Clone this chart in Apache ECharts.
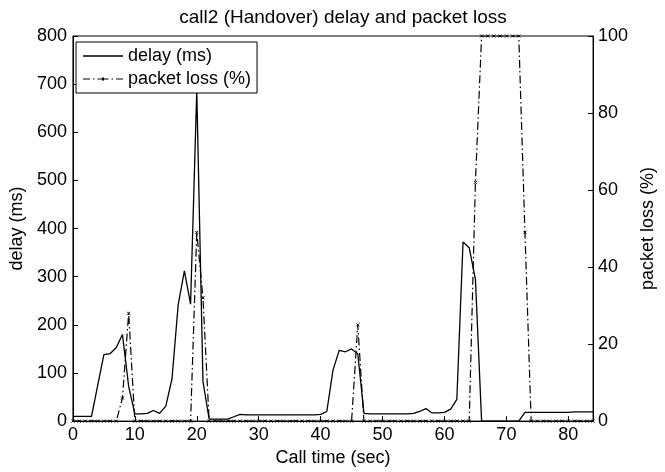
<!DOCTYPE html>
<html>
<head>
    <meta charset="utf-8">
    <title>call2 delay and packet loss</title>
    <script src="https://cdn.jsdelivr.net/npm/echarts@6/dist/echarts.min.js"></script>
    <style>
        body{ margin:0; background:#fff; }
        #main{ width:665px; height:472px; }
    </style>
</head>
<body>
<div id="main"></div>
<script>
    // call time in seconds, one sample per second
    var callTime = [];
    for (var t = 0; t <= 84; t++) callTime.push(t);

    // delay (ms)
    var delayMs = [10,10,10,10,74,138,140,153,180,72,
                   15,15,16,22,16,31,88,242,312,243,
                   686,82,4,4,4,4,9,14,13,13,
                   13,13,13,13,13,13,13,13,13,13,
                   14,20,106,147,144,150,140,16,15,15,
                   15,15,15,15,15,16,20,26,17,17,
                   18,25,45,372,360,295,0,0,0,0,
                   0,0,0,18,18,18,18,18,18,18,
                   18,19,19,19,19];

    // packet loss (%)
    var lossPct = [0,0,0,0,0,0,0,0,6,28,
                   0,0,0,0,0,0,0,0,0,0,
                   49,32,0,0,0,0,0,0,0,0,
                   0,0,0,0,0,0,0,0,0,0,
                   0,0,0,0,0,0,25,0,0,0,
                   0,0,0,0,0,0,0,0,0,0,
                   0,0,0,0,0,62,100,100,100,100,
                   100,100,100,49,0,0,0,0,0,0,
                   0,0,0,0,0];

    var delayTicks = [0,100,200,300,400,500,600,700,800];
    var lossTicks = [0,20,40,60,80,100];

    function pairs(xs, ys){
        var out = [];
        for (var i = 0; i < xs.length; i++) out.push([xs[i], ys[i]]);
        return out;
    }

    var font = 'Liberation Sans';
    var axisText = {color:'#000', fontSize:18, fontFamily:font};

    // legend icons: solid line / dash-dot line with a small mark, 40x14 box
    var solidIcon = 'path://M0,0L0,0M40,14L40,14M0,6.3L40,6.3L40,7.7L0,7.7Z';
    var dashDotIcon = 'path://M0,0L0,0M40,14L40,14' +
        'M0,6.4L7,6.4L7,7.6L0,7.6Z' +
        'M10,6.4L11.5,6.4L11.5,7.6L10,7.6Z' +
        'M14.5,6.4L25.5,6.4L25.5,7.6L14.5,7.6Z' +
        'M19,5.5L21,5.5L21,8.5L19,8.5Z' +
        'M28.5,6.4L30,6.4L30,7.6L28.5,7.6Z' +
        'M33,6.4L40,6.4L40,7.6L33,7.6Z';

    var myChart = echarts.init(document.getElementById('main'));
    myChart.setOption({
        animation:false,
        backgroundColor:'#fff',
        title:{
            text:'call2 (Handover) delay and packet loss',
            left:338, textAlign:'center', top:3,
            textStyle:{color:'#000', fontSize:19, fontWeight:'normal', fontFamily:font}
        },
        grid:{ left:68, right:58, top:36, bottom:47, show:true, borderColor:'#000', borderWidth:1 },
        legend:{
            left:76, top:42, orient:'vertical',
            backgroundColor:'#fff', borderColor:'#000', borderWidth:1,
            padding:[5,6,5,7], itemGap:5, itemWidth:40, itemHeight:14,
            textStyle:{color:'#000', fontSize:18, fontFamily:font},
            data:[{name:'delay (ms)', icon:solidIcon, itemStyle:{borderWidth:0}},
                  {name:'packet loss (%)', icon:dashDotIcon, itemStyle:{borderWidth:0}}]
        },
        xAxis:{
            type:'value', min:0, max:84, interval:10,
            name:'Call time (sec)', nameLocation:'middle', nameGap:22,
            nameTextStyle:axisText,
            axisLine:{lineStyle:{color:'#000', width:1}},
            axisTick:{inside:true, length:5, lineStyle:{color:'#000'}},
            axisLabel:{margin:5, showMaxLabel:false, color:'#000', fontSize:18, fontFamily:font},
            splitLine:{show:false}
        },
        yAxis:[{
            type:'value', min:delayTicks[0], max:delayTicks[delayTicks.length-1], interval:100,
            name:'delay (ms)', nameLocation:'middle', nameGap:44,
            nameTextStyle:axisText,
            axisLine:{show:true, lineStyle:{color:'#000', width:1}},
            axisTick:{show:true, inside:true, length:5, lineStyle:{color:'#000'}},
            axisLabel:{margin:6, color:'#000', fontSize:18, fontFamily:font},
            splitLine:{show:false}
        },{
            type:'value', min:lossTicks[0], max:lossTicks[lossTicks.length-1], interval:20,
            position:'right',
            name:'packet loss (%)', nameLocation:'middle', nameGap:36,
            nameTextStyle:axisText,
            axisLine:{show:true, lineStyle:{color:'#000', width:1}},
            axisTick:{show:true, inside:true, length:5, lineStyle:{color:'#000'}},
            axisLabel:{margin:5, color:'#000', fontSize:18, fontFamily:font},
            splitLine:{show:false}
        }],
        series:[{
            name:'delay (ms)', type:'line', yAxisIndex:0,
            data:pairs(callTime, delayMs),
            showSymbol:false, symbol:'none',
            lineStyle:{color:'#000', width:1.3},
            itemStyle:{color:'#000'}
        },{
            name:'packet loss (%)', type:'line', yAxisIndex:1,
            data:pairs(callTime, lossPct),
            symbol:'path://M0,0L10,10M10,0L0,10', symbolSize:3,
            itemStyle:{color:'#000', borderColor:'#000', borderWidth:1},
            lineStyle:{color:'#000', width:1.2, type:[8,3,1.5,3]}
        }]
    });
</script>
</body>
</html>
